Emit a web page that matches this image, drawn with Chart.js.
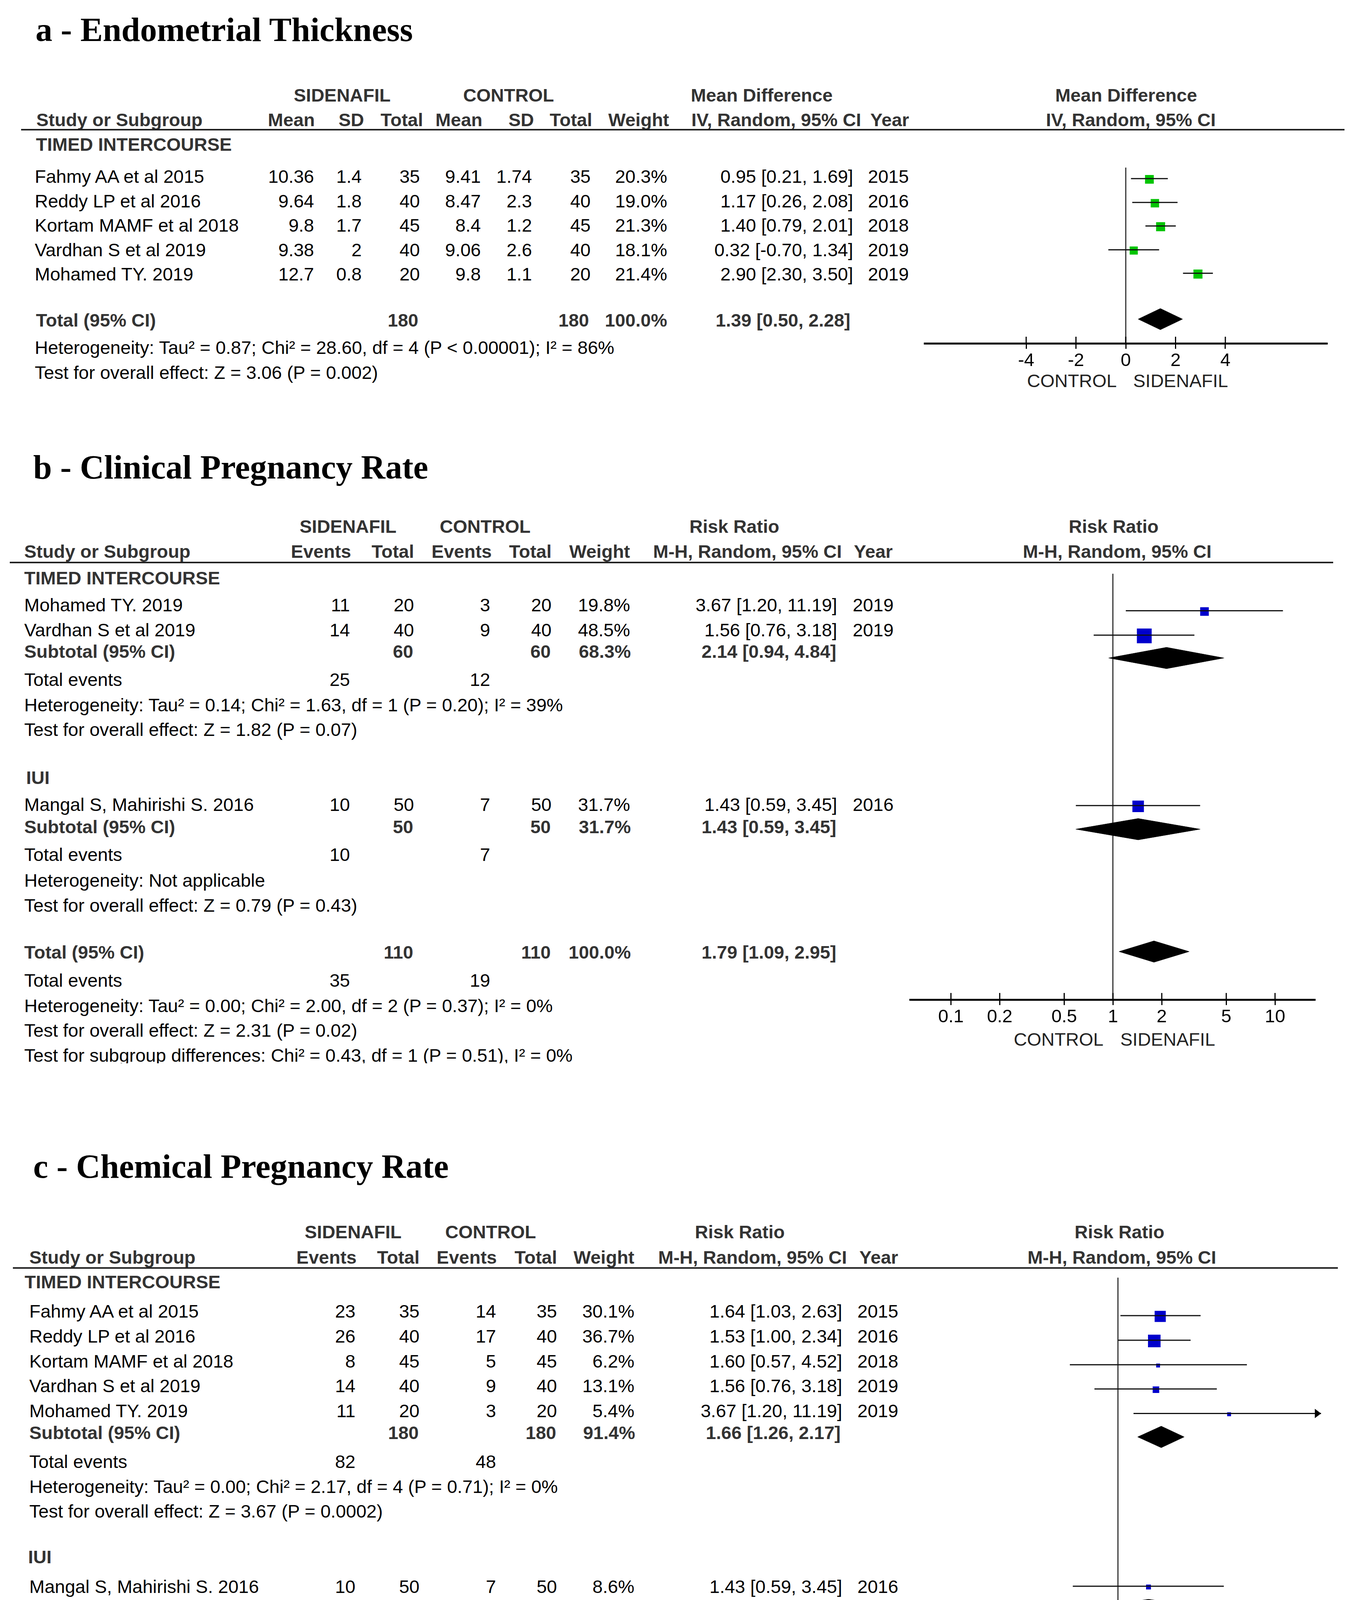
<!DOCTYPE html>
<html>
<head>
<meta charset="utf-8">
<script src="https://cdn.jsdelivr.net/npm/chart.js@4.4.1/dist/chart.umd.min.js"></script>
<style>
html, body { margin: 0; padding: 0; background: #fff; }
#page { position: relative; width: 3474px; height: 4765px; overflow: hidden; background: #fff; font-family: "Liberation Sans", Arial, sans-serif; }
.t { position: absolute; white-space: pre; font-size: 47px; line-height: 47px; color: #000; }
.b { font-weight: bold; color: #333; }
.g { color: #222; }
.title { position: absolute; white-space: pre; font-family: "Liberation Serif", "Times New Roman", serif; font-weight: bold; font-size: 86px; line-height: 86px; color: #000; }
.rule { position: absolute; height: 4px; background: #222; }
canvas { position: absolute; }
</style>
</head>
<body>
<div id="page"></div>
<script>
// ---------- a - Endometrial Thickness ----------
const studiesA = ['Fahmy AA et al 2015', 'Reddy LP et al 2016', 'Kortam MAMF et al 2018', 'Vardhan S et al 2019', 'Mohamed TY. 2019'];
const sMeanA = [10.36, 9.64, 9.8, 9.38, 12.7];
const sSdA = [1.4, 1.8, 1.7, 2, 0.8];
const sTotA = [35, 40, 45, 40, 20];
const cMeanA = [9.41, 8.47, 8.4, 9.06, 9.8];
const cSdA = [1.74, 2.3, 1.2, 2.6, 1.1];
const cTotA = [35, 40, 45, 40, 20];
const weightA = [20.3, 19.0, 21.3, 18.1, 21.4];
const mdA = [0.95, 1.17, 1.40, 0.32, 2.90];
const loA = [0.21, 0.26, 0.79, -0.70, 2.30];
const hiA = [1.69, 2.08, 2.01, 1.34, 3.50];
const yearA = [2015, 2016, 2018, 2019, 2019];
const totNA = [180, 180];
const totMdA = [1.39, 0.50, 2.28];
const notesA = ['Heterogeneity: Tau² = 0.87; Chi² = 28.60, df = 4 (P < 0.00001); I² = 86%', 'Test for overall effect: Z = 3.06 (P = 0.002)'];
const ticksA = [-4, -2, 0, 2, 4];

// ---------- b - Clinical Pregnancy Rate ----------
const groupsB = ['TIMED INTERCOURSE', 'IUI'];
const studiesB = [['Mohamed TY. 2019', 'Vardhan S et al 2019'], ['Mangal S, Mahirishi S. 2016']];
const evSB = [[11, 14], [10]];
const nSB = [[20, 40], [50]];
const evCB = [[3, 9], [7]];
const nCB = [[20, 40], [50]];
const wB = [[19.8, 48.5], [31.7]];
const rrB = [[3.67, 1.56], [1.43]];
const loB = [[1.20, 0.76], [0.59]];
const hiB = [[11.19, 3.18], [3.45]];
const yearB = [[2019, 2019], [2016]];
const subRRB = [[2.14, 0.94, 4.84], [1.43, 0.59, 3.45]];
const subNB = [[60, 60], [50, 50]];
const subWB = [68.3, 31.7];
const subEvB = [[25, 12], [10, 7]];
const subHetB = ['Heterogeneity: Tau² = 0.14; Chi² = 1.63, df = 1 (P = 0.20); I² = 39%', 'Heterogeneity: Not applicable'];
const subTestB = ['Test for overall effect: Z = 1.82 (P = 0.07)', 'Test for overall effect: Z = 0.79 (P = 0.43)'];
const totRRB = [1.79, 1.09, 2.95];
const totNB = [110, 110];
const totEvB = [35, 19];
const totNotesB = ['Heterogeneity: Tau² = 0.00; Chi² = 2.00, df = 2 (P = 0.37); I² = 0%', 'Test for overall effect: Z = 2.31 (P = 0.02)', 'Test for subgroup differences: Chi² = 0.43, df = 1 (P = 0.51), I² = 0%'];

// ---------- c - Chemical Pregnancy Rate ----------
const groupsC = ['TIMED INTERCOURSE', 'IUI'];
const studiesC = [['Fahmy AA et al 2015', 'Reddy LP et al 2016', 'Kortam MAMF et al 2018', 'Vardhan S et al 2019', 'Mohamed TY. 2019'], ['Mangal S, Mahirishi S. 2016']];
const evSC = [[23, 26, 8, 14, 11], [10]];
const nSC = [[35, 40, 45, 40, 20], [50]];
const evCC = [[14, 17, 5, 9, 3], [7]];
const nCC = [[35, 40, 45, 40, 20], [50]];
const wC = [[30.1, 36.7, 6.2, 13.1, 5.4], [8.6]];
const rrC = [[1.64, 1.53, 1.60, 1.56, 3.67], [1.43]];
const loC = [[1.03, 1.00, 0.57, 0.76, 1.20], [0.59]];
const hiC = [[2.63, 2.34, 4.52, 3.18, 11.19], [3.45]];
const yearC = [[2015, 2016, 2018, 2019, 2019], [2016]];
const subRRC = [[1.66, 1.26, 2.17], [1.43, 0.59, 3.45]];
const subNC = [[180, 180], [50, 50]];
const subWC = [91.4, 8.6];
const subEvC = [[82, 48], [10, 7]];
const subHetC = ['Heterogeneity: Tau² = 0.00; Chi² = 2.17, df = 4 (P = 0.71); I² = 0%', 'Heterogeneity: Not applicable'];
const subTestC = ['Test for overall effect: Z = 3.67 (P = 0.0002)', 'Test for overall effect: Z = 0.79 (P = 0.43)'];
const totRRC = [1.64, 1.26, 2.12];
const totNC = [230, 230];
const totEvC = [92, 55];
const totNotesC = ['Heterogeneity: Tau² = 0.00; Chi² = 2.24, df = 5 (P = 0.81); I² = 0%', 'Test for overall effect: Z = 3.74 (P = 0.0002)', 'Test for subgroup differences: Chi² = 0.10, df = 1 (P = 0.75), I² = 0%'];
const ticksRR = [0.1, 0.2, 0.5, 1, 2, 5, 10];

const page = document.getElementById('page');
const PAD = 80, AXIS_H = 110, MARK_DY = -5;

function txt(x, y, s, align, cls, clip) {
  const d = document.createElement('div');
  d.className = 't' + (cls ? ' ' + cls : '');
  d.textContent = s;
  d.style.top = (y - 24) + 'px';
  if (align === 'r') { d.style.left = (x - 1500) + 'px'; d.style.width = '1500px'; d.style.textAlign = 'right'; }
  else if (align === 'c') { d.style.left = (x - 750) + 'px'; d.style.width = '1500px'; d.style.textAlign = 'center'; }
  else d.style.left = x + 'px';
  if (clip) { d.style.height = clip + 'px'; d.style.overflow = 'hidden'; }
  page.appendChild(d);
}
function title(x, base, s) {
  const d = document.createElement('div');
  d.className = 'title';
  d.textContent = s;
  d.style.left = x + 'px';
  d.style.top = (base - 72) + 'px';
  page.appendChild(d);
}
function rule(x0, x1, y) {
  const d = document.createElement('div');
  d.className = 'rule';
  d.style.left = x0 + 'px'; d.style.width = (x1 - x0) + 'px'; d.style.top = (y - 2) + 'px';
  page.appendChild(d);
}
function ci(e, l, h) { return e.toFixed(2) + ' [' + l.toFixed(2) + ', ' + h.toFixed(2) + ']'; }
// square side grows with study weight
function side(w) { return Math.max(10, 6.3 * Math.sqrt(w) - 6); }

const forestPlugin = {
  id: 'forest',
  beforeDatasetsDraw(chart, args, opts) {
    const { ctx, chartArea, scales: { x, y } } = chart;
    const px = Math.round(x.getPixelForValue(opts.ref));
    ctx.save();
    ctx.strokeStyle = '#333';
    ctx.lineWidth = 3;
    ctx.beginPath();
    ctx.moveTo(px, y.getPixelForValue(opts.refTop));
    ctx.lineTo(px, chartArea.bottom);
    ctx.stroke();
    ctx.restore();
  },
  afterDatasetsDraw(chart, args, opts) {
    const { ctx, chartArea, scales: { y } } = chart;
    ctx.save();
    ctx.fillStyle = '#000';
    opts.arrows.forEach(v => {
      const yp = y.getPixelForValue(v);
      ctx.beginPath();
      ctx.moveTo(chartArea.right, yp);
      ctx.lineTo(chartArea.right - 16, yp - 12);
      ctx.lineTo(chartArea.right - 16, yp + 12);
      ctx.closePath();
      ctx.fill();
    });
    ctx.restore();
  },
  afterDraw(chart) {
    const { ctx, chartArea, scales: { x } } = chart;
    ctx.save();
    ctx.strokeStyle = '#000';
    ctx.lineWidth = 3;
    ctx.beginPath();
    x.ticks.forEach(t => {
      const p = x.getPixelForValue(t.value);
      ctx.moveTo(p, chartArea.bottom - 17);
      ctx.lineTo(p, chartArea.bottom);
    });
    ctx.stroke();
    ctx.restore();
  }
};

function forest(o) {
  const cv = document.createElement('canvas');
  const W = o.right - o.left + 2 * PAD, H = o.axisY - o.top + AXIS_H;
  cv.width = W; cv.height = H;
  cv.style.left = (o.left - PAD) + 'px'; cv.style.top = o.top + 'px';
  cv.style.width = W + 'px'; cv.style.height = H + 'px';
  page.appendChild(cv);

  const ds = [];
  o.marks.forEach(m => ds.push({
    data: [{ x: m.lo, y: m.y }, { x: m.hi, y: m.y }],
    showLine: true, borderColor: '#111', borderWidth: o.ciW, pointRadius: 0
  }));
  ds.push({
    data: o.marks.map(m => ({ x: m.est, y: m.y + 2 })),
    showLine: false, pointStyle: 'rect',
    pointRadius: o.marks.map(m => side(m.w) / Math.SQRT2),
    backgroundColor: o.color, borderWidth: 0
  });
  o.diamonds.forEach(m => ds.push({
    data: [{ x: m.lo, y: m.y }, { x: m.est, y: m.y - 28 }, { x: m.hi, y: m.y }, { x: m.est, y: m.y + 28 }, { x: m.lo, y: m.y }],
    showLine: true, fill: 'shape', backgroundColor: '#000', borderColor: '#000', borderWidth: 1, pointRadius: 0
  }));

  new Chart(cv, {
    type: 'scatter',
    data: { datasets: ds },
    options: {
      responsive: false,
      animation: false,
      devicePixelRatio: 1,
      events: [],
      layout: { padding: { left: PAD, right: PAD, top: 0, bottom: 0 } },
      plugins: {
        legend: { display: false },
        tooltip: { enabled: false },
        forest: { ref: o.ref, refTop: o.refTop, arrows: o.marks.filter(m => m.hi > o.xMax).map(m => m.y) }
      },
      scales: {
        x: {
          type: o.xType, min: o.xMin, max: o.xMax, position: 'bottom',
          afterBuildTicks: ax => { ax.ticks = o.ticks.map(v => ({ value: v })); },
          afterFit: ax => { ax.height = AXIS_H; },
          ticks: {
            autoSkip: false, maxRotation: 0, minRotation: 0, color: '#000', padding: 3,
            font: { family: '"Liberation Sans", Arial, sans-serif', size: 47 },
            callback: v => String(v)
          },
          grid: { display: true, drawOnChartArea: false, drawTicks: true, tickLength: 14, color: '#000', lineWidth: 3 },
          border: { display: true, color: '#000', width: 5 }
        },
        y: { type: 'linear', display: false, reverse: true, min: o.top, max: o.axisY }
      }
    },
    plugins: [forestPlugin]
  });
}

// ---------- panel a ----------
const LA = {
  title: 105, grp: 244, head: 307, rule: 332, sub: 370, rows: [452, 515, 577, 640, 702],
  total: 820, notes: [890, 954], col: [804, 926, 1075, 1231, 1362, 1512, 1708],
  hcol: [806, 932, 1083, 1235, 1367, 1516, 1713], eff: 2184, effB: 2177, yr: 2222, x0: 89
};
title(91, LA.title, 'a - Endometrial Thickness');
txt(876, LA.grp, 'SIDENAFIL', 'c', 'b');
txt(1302, LA.grp, 'CONTROL', 'c', 'b');
txt(1950, LA.grp, 'Mean Difference', 'c', 'b');
txt(2883, LA.grp, 'Mean Difference', 'c', 'b');
txt(93, LA.head, 'Study or Subgroup', 'l', 'b');
['Mean', 'SD', 'Total', 'Mean', 'SD', 'Total', 'Weight'].forEach((h, i) => txt(LA.hcol[i], LA.head, h, 'r', 'b'));
txt(1770, LA.head, 'IV, Random, 95% CI', 'l', 'b');
txt(2228, LA.head, 'Year', 'l', 'b');
txt(2895, LA.head, 'IV, Random, 95% CI', 'c', 'b');
rule(54, 3442, LA.rule);
txt(92, LA.sub, 'TIMED INTERCOURSE', 'l', 'b');
studiesA.forEach((s, i) => {
  const y = LA.rows[i];
  txt(LA.x0, y, s);
  [sMeanA[i], sSdA[i], sTotA[i], cMeanA[i], cSdA[i], cTotA[i]].forEach((v, j) => txt(LA.col[j], y, String(v), 'r'));
  txt(LA.col[6], y, weightA[i].toFixed(1) + '%', 'r');
  txt(LA.eff, y, ci(mdA[i], loA[i], hiA[i]), 'r');
  txt(LA.yr, y, String(yearA[i]));
});
txt(92, LA.total, 'Total (95% CI)', 'l', 'b');
txt(LA.col[2] - 4, LA.total, String(totNA[0]), 'r', 'b');
txt(LA.col[5] - 4, LA.total, String(totNA[1]), 'r', 'b');
txt(LA.col[6], LA.total, '100.0%', 'r', 'b');
txt(LA.effB, LA.total, ci(totMdA[0], totMdA[1], totMdA[2]), 'r', 'b');
notesA.forEach((n, i) => txt(LA.x0, LA.notes[i], n));
txt(2859, 975, 'CONTROL', 'r', 'g');
txt(2901, 975, 'SIDENAFIL', 'l', 'g');
forest({
  left: 2367, right: 3397, top: 340, axisY: 879, xType: 'linear', xMin: -8.08, xMax: 8.08,
  ticks: ticksA, ref: 0, refTop: 415, ciW: 3, color: '#00c400',
  marks: mdA.map((v, i) => ({ est: v, lo: loA[i], hi: hiA[i], w: weightA[i], y: LA.rows[i] + MARK_DY - 3 })),
  diamonds: [{ est: totMdA[0], lo: totMdA[1], hi: totMdA[2], y: LA.total + MARK_DY }]
});

// ---------- risk ratio panels ----------
function rrPanel(L, d) {
  title(L.tx, L.title, d.title);
  txt(L.sid, L.grp, 'SIDENAFIL', 'c', 'b');
  txt(L.con, L.grp, 'CONTROL', 'c', 'b');
  txt(L.rrL, L.grp, 'Risk Ratio', 'c', 'b');
  txt(L.rrR, L.grp, 'Risk Ratio', 'c', 'b');
  txt(L.x0, L.head, 'Study or Subgroup', 'l', 'b');
  ['Events', 'Total', 'Events', 'Total', 'Weight'].forEach((h, i) => txt(L.hcol[i], L.head, h, 'r', 'b'));
  txt(L.mh, L.head, 'M-H, Random, 95% CI', 'l', 'b');
  txt(L.yh, L.head, 'Year', 'l', 'b');
  txt(L.mhR, L.head, 'M-H, Random, 95% CI', 'c', 'b');
  rule(L.r0, L.r1, L.rule);
  const marks = [], diamonds = [];
  d.groups.forEach((g, gi) => {
    const G = L.groups[gi];
    txt(G.hx, G.hdr, g, 'l', 'b');
    d.studies[gi].forEach((s, i) => {
      const y = G.rows[i];
      txt(L.x0, y, s);
      [d.evS[gi][i], d.nS[gi][i], d.evC[gi][i], d.nC[gi][i]].forEach((v, j) => txt(L.col[j], y, String(v), 'r'));
      txt(L.col[4], y, d.w[gi][i].toFixed(1) + '%', 'r');
      txt(L.eff, y, ci(d.rr[gi][i], d.lo[gi][i], d.hi[gi][i]), 'r');
      txt(L.yr, y, String(d.yr[gi][i]));
      marks.push({ est: d.rr[gi][i], lo: d.lo[gi][i], hi: d.hi[gi][i], w: d.w[gi][i], y: y + MARK_DY - 5 });
    });
    txt(L.x0, G.sub, 'Subtotal (95% CI)', 'l', 'b');
    txt(L.col[1] - 2, G.sub, String(d.subN[gi][0]), 'r', 'b');
    txt(L.col[3] - 2, G.sub, String(d.subN[gi][1]), 'r', 'b');
    txt(L.col[4] + 2, G.sub, d.subW[gi].toFixed(1) + '%', 'r', 'b');
    const sr = d.subRR[gi];
    txt(L.effB, G.sub, ci(sr[0], sr[1], sr[2]), 'r', 'b');
    diamonds.push({ est: sr[0], lo: sr[1], hi: sr[2], y: G.sub + MARK_DY });
    txt(L.x0, G.ev, 'Total events');
    txt(L.col[0], G.ev, String(d.subEv[gi][0]), 'r');
    txt(L.col[2], G.ev, String(d.subEv[gi][1]), 'r');
    txt(L.x0, G.het, d.subHet[gi]);
    txt(L.x0, G.test, d.subTest[gi]);
  });
  txt(L.x0, L.total, 'Total (95% CI)', 'l', 'b');
  txt(L.col[1] - 2, L.total, String(d.totN[0]), 'r', 'b');
  txt(L.col[3] - 2, L.total, String(d.totN[1]), 'r', 'b');
  txt(L.col[4] + 2, L.total, '100.0%', 'r', 'b');
  txt(L.effB, L.total, ci(d.totRR[0], d.totRR[1], d.totRR[2]), 'r', 'b');
  diamonds.push({ est: d.totRR[0], lo: d.totRR[1], hi: d.totRR[2], y: L.total + MARK_DY });
  txt(L.x0, L.ev, 'Total events');
  txt(L.col[0], L.ev, String(d.totEv[0]), 'r');
  txt(L.col[2], L.ev, String(d.totEv[1]), 'r');
  d.totNotes.forEach((n, i) => txt(L.x0, L.notes[i], n, 'l', '', i === 2 ? 44 : 0));
  txt(L.ctl, L.side, 'CONTROL', 'r', 'g');
  txt(L.sdn, L.side, 'SIDENAFIL', 'l', 'g');
  forest({
    left: L.ax0, right: L.ax1, top: L.rule + 2, axisY: L.axisY, xType: 'logarithmic', xMin: L.xMin, xMax: L.xMax,
    ticks: ticksRR, ref: 1, refTop: L.rule + 2, ciW: L.ciW, color: '#0000cc', marks, diamonds
  });
}

rrPanel({
  tx: 85, title: 1225, grp: 1348, head: 1412, rule: 1440, x0: 62,
  sid: 891, con: 1242, rrL: 1880, rrR: 2851, mh: 1672, yh: 2186, mhR: 2860, r0: 25, r1: 3413,
  hcol: [899, 1060, 1259, 1412, 1613], col: [896, 1060, 1255, 1412, 1613], eff: 2143, effB: 2141, yr: 2183,
  groups: [
    { hx: 62, hdr: 1480, rows: [1549, 1613], sub: 1668, ev: 1740, het: 1805, test: 1868 },
    { hx: 67, hdr: 1991, rows: [2060], sub: 2117, ev: 2188, het: 2254, test: 2318 }
  ],
  total: 2438, ev: 2510, notes: [2575, 2638, 2702],
  ctl: 2825, sdn: 2868, side: 2661, ax0: 2330, ax1: 3366, axisY: 2559, xMin: 0.056, xMax: 17.6, ciW: 3
}, {
  title: 'b - Clinical Pregnancy Rate', groups: groupsB, studies: studiesB, evS: evSB, nS: nSB, evC: evCB, nC: nCB,
  w: wB, rr: rrB, lo: loB, hi: hiB, yr: yearB, subRR: subRRB, subN: subNB, subW: subWB, subEv: subEvB,
  subHet: subHetB, subTest: subTestB, totRR: totRRB, totN: totNB, totEv: totEvB, totNotes: totNotesB
});

rrPanel({
  tx: 85, title: 3015, grp: 3154, head: 3219, rule: 3246, x0: 75,
  sid: 904, con: 1256, rrL: 1894, rrR: 2866, mh: 1685, yh: 2200, mhR: 2872, r0: 33, r1: 3425,
  hcol: [913, 1074, 1272, 1426, 1624], col: [910, 1074, 1270, 1426, 1624], eff: 2156, effB: 2152, yr: 2195,
  groups: [
    { hx: 63, hdr: 3282, rows: [3357, 3421, 3485, 3548, 3612], sub: 3668, ev: 3742, het: 3806, test: 3869 },
    { hx: 72, hdr: 3986, rows: [4062], sub: 4119, ev: 4190, het: 4254, test: 4318 }
  ],
  total: 4439, ev: 4510, notes: [4574, 4638, 4700],
  ctl: 2837, sdn: 2882, side: 4656, ax0: 2342, ax1: 3382, axisY: 4557, xMin: 0.093, xMax: 10.76, ciW: 3
}, {
  title: 'c - Chemical Pregnancy Rate', groups: groupsC, studies: studiesC, evS: evSC, nS: nSC, evC: evCC, nC: nCC,
  w: wC, rr: rrC, lo: loC, hi: hiC, yr: yearC, subRR: subRRC, subN: subNC, subW: subWC, subEv: subEvC,
  subHet: subHetC, subTest: subTestC, totRR: totRRC, totN: totNC, totEv: totEvC, totNotes: totNotesC
});
</script>
</body>
</html>
